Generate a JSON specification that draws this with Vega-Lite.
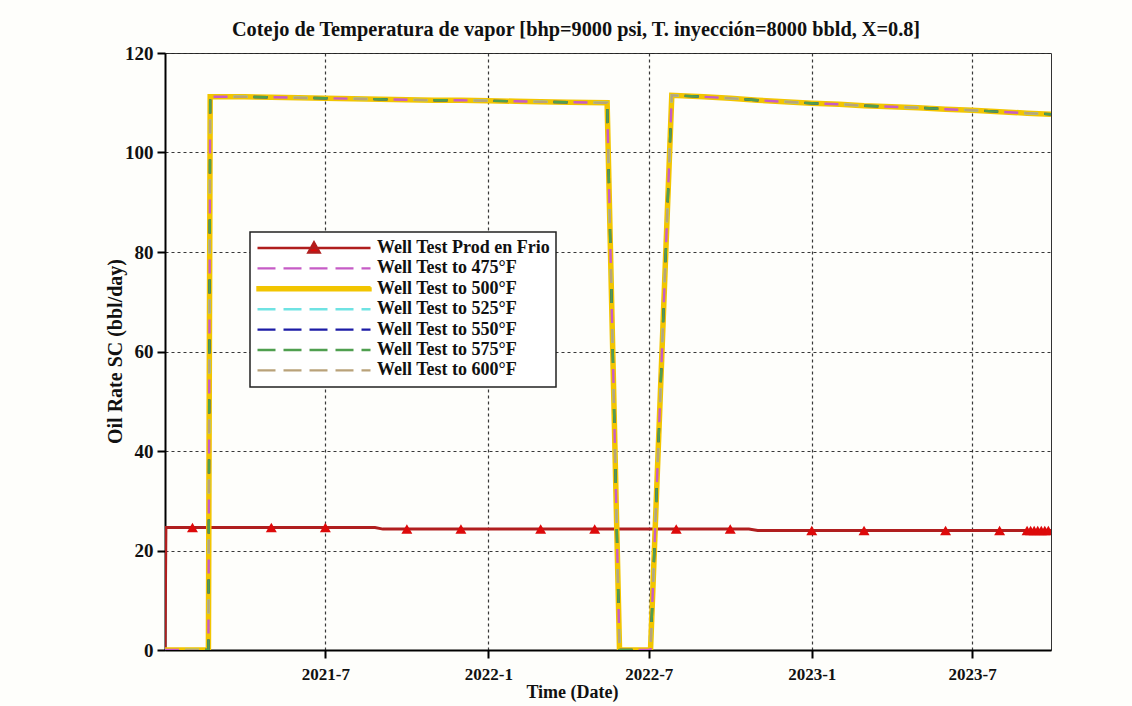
{
  "$schema": "https://vega.github.io/schema/vega-lite/v6.json",
  "width": 886,
  "height": 597,
  "autosize": {"type": "none"},
  "padding": {"left": 165, "top": 53, "right": 81, "bottom": 56},
  "background": "#fefefb",
  "title": {
    "text": "Cotejo de Temperatura de vapor [bhp=9000 psi, T. inyección=8000 bbld, X=0.8]",
    "font": "Liberation Serif",
    "fontSize": 20.3,
    "fontWeight": "bold",
    "color": "#111111",
    "anchor": "middle",
    "frame": "group",
    "dx": -32,
    "offset": 4
  },
  "datasets": {
    "frio": [
      {"date": "2021-01-01", "series": "Well Test Prod en Frio", "rate": 0},
      {"date": "2021-01-02", "series": "Well Test Prod en Frio", "rate": 24.6},
      {"date": "2021-08-26", "series": "Well Test Prod en Frio", "rate": 24.6},
      {"date": "2021-09-04", "series": "Well Test Prod en Frio", "rate": 24.3},
      {"date": "2022-10-22", "series": "Well Test Prod en Frio", "rate": 24.3},
      {"date": "2022-11-01", "series": "Well Test Prod en Frio", "rate": 24.0},
      {"date": "2023-09-28", "series": "Well Test Prod en Frio", "rate": 24.0}
    ],
    "frioTests": [
      {"date": "2021-02-01", "rate": 24.6},
      {"date": "2021-05-01", "rate": 24.6},
      {"date": "2021-07-01", "rate": 24.6},
      {"date": "2021-10-01", "rate": 24.3},
      {"date": "2021-12-01", "rate": 24.3},
      {"date": "2022-03-01", "rate": 24.3},
      {"date": "2022-05-01", "rate": 24.3},
      {"date": "2022-08-01", "rate": 24.3},
      {"date": "2022-10-01", "rate": 24.3},
      {"date": "2023-01-01", "rate": 24.0},
      {"date": "2023-03-01", "rate": 24.0},
      {"date": "2023-06-01", "rate": 24.0},
      {"date": "2023-08-01", "rate": 24.0},
      {"date": "2023-09-01", "rate": 24.0},
      {"date": "2023-09-05", "rate": 24.0},
      {"date": "2023-09-09", "rate": 24.0},
      {"date": "2023-09-13", "rate": 24.0},
      {"date": "2023-09-17", "rate": 24.0},
      {"date": "2023-09-21", "rate": 24.0},
      {"date": "2023-09-25", "rate": 24.0}
    ],
    "steam": [
      {"date": "2021-01-01", "Well Test to 475°F": 0, "Well Test to 500°F": 0, "Well Test to 525°F": 0, "Well Test to 550°F": 0, "Well Test to 575°F": 0, "Well Test to 600°F": 0},
      {"date": "2021-02-19", "Well Test to 475°F": 0, "Well Test to 500°F": 0, "Well Test to 525°F": 0, "Well Test to 550°F": 0, "Well Test to 575°F": 0, "Well Test to 600°F": 0},
      {"date": "2021-02-21", "Well Test to 475°F": 111.2, "Well Test to 500°F": 111.2, "Well Test to 525°F": 111.2, "Well Test to 550°F": 111.2, "Well Test to 575°F": 111.2, "Well Test to 600°F": 111.2},
      {"date": "2021-04-01", "Well Test to 475°F": 111.2, "Well Test to 500°F": 111.2, "Well Test to 525°F": 111.2, "Well Test to 550°F": 111.2, "Well Test to 575°F": 111.2, "Well Test to 600°F": 111.2},
      {"date": "2021-05-01", "Well Test to 475°F": 111.1, "Well Test to 500°F": 111.1, "Well Test to 525°F": 111.1, "Well Test to 550°F": 111.1, "Well Test to 575°F": 111.1, "Well Test to 600°F": 111.1},
      {"date": "2021-06-01", "Well Test to 475°F": 111.0, "Well Test to 500°F": 111.0, "Well Test to 525°F": 111.0, "Well Test to 550°F": 111.0, "Well Test to 575°F": 111.0, "Well Test to 600°F": 111.0},
      {"date": "2021-07-01", "Well Test to 475°F": 110.9, "Well Test to 500°F": 110.9, "Well Test to 525°F": 110.9, "Well Test to 550°F": 110.9, "Well Test to 575°F": 110.9, "Well Test to 600°F": 110.9},
      {"date": "2021-08-01", "Well Test to 475°F": 110.8, "Well Test to 500°F": 110.8, "Well Test to 525°F": 110.8, "Well Test to 550°F": 110.8, "Well Test to 575°F": 110.8, "Well Test to 600°F": 110.8},
      {"date": "2021-09-01", "Well Test to 475°F": 110.7, "Well Test to 500°F": 110.7, "Well Test to 525°F": 110.7, "Well Test to 550°F": 110.7, "Well Test to 575°F": 110.7, "Well Test to 600°F": 110.7},
      {"date": "2021-10-01", "Well Test to 475°F": 110.6, "Well Test to 500°F": 110.6, "Well Test to 525°F": 110.6, "Well Test to 550°F": 110.6, "Well Test to 575°F": 110.6, "Well Test to 600°F": 110.6},
      {"date": "2021-11-01", "Well Test to 475°F": 110.5, "Well Test to 500°F": 110.5, "Well Test to 525°F": 110.5, "Well Test to 550°F": 110.5, "Well Test to 575°F": 110.5, "Well Test to 600°F": 110.5},
      {"date": "2021-12-01", "Well Test to 475°F": 110.5, "Well Test to 500°F": 110.5, "Well Test to 525°F": 110.5, "Well Test to 550°F": 110.5, "Well Test to 575°F": 110.5, "Well Test to 600°F": 110.5},
      {"date": "2022-01-01", "Well Test to 475°F": 110.4, "Well Test to 500°F": 110.4, "Well Test to 525°F": 110.4, "Well Test to 550°F": 110.4, "Well Test to 575°F": 110.4, "Well Test to 600°F": 110.4},
      {"date": "2022-02-01", "Well Test to 475°F": 110.3, "Well Test to 500°F": 110.3, "Well Test to 525°F": 110.3, "Well Test to 550°F": 110.3, "Well Test to 575°F": 110.3, "Well Test to 600°F": 110.3},
      {"date": "2022-03-01", "Well Test to 475°F": 110.2, "Well Test to 500°F": 110.2, "Well Test to 525°F": 110.2, "Well Test to 550°F": 110.2, "Well Test to 575°F": 110.2, "Well Test to 600°F": 110.2},
      {"date": "2022-04-01", "Well Test to 475°F": 110.1, "Well Test to 500°F": 110.1, "Well Test to 525°F": 110.1, "Well Test to 550°F": 110.1, "Well Test to 575°F": 110.1, "Well Test to 600°F": 110.1},
      {"date": "2022-05-15", "Well Test to 475°F": 110.0, "Well Test to 500°F": 110.0, "Well Test to 525°F": 110.0, "Well Test to 550°F": 110.0, "Well Test to 575°F": 110.0, "Well Test to 600°F": 110.0},
      {"date": "2022-05-29", "Well Test to 475°F": 0, "Well Test to 500°F": 0, "Well Test to 525°F": 0, "Well Test to 550°F": 0, "Well Test to 575°F": 0, "Well Test to 600°F": 0},
      {"date": "2022-07-03", "Well Test to 475°F": 0, "Well Test to 500°F": 0, "Well Test to 525°F": 0, "Well Test to 550°F": 0, "Well Test to 575°F": 0, "Well Test to 600°F": 0},
      {"date": "2022-07-27", "Well Test to 475°F": 111.5, "Well Test to 500°F": 111.5, "Well Test to 525°F": 111.5, "Well Test to 550°F": 111.5, "Well Test to 575°F": 111.5, "Well Test to 600°F": 111.5},
      {"date": "2022-09-01", "Well Test to 475°F": 111.2, "Well Test to 500°F": 111.2, "Well Test to 525°F": 111.2, "Well Test to 550°F": 111.2, "Well Test to 575°F": 111.2, "Well Test to 600°F": 111.2},
      {"date": "2022-10-01", "Well Test to 475°F": 110.9, "Well Test to 500°F": 110.9, "Well Test to 525°F": 110.9, "Well Test to 550°F": 110.9, "Well Test to 575°F": 110.9, "Well Test to 600°F": 110.9},
      {"date": "2022-11-01", "Well Test to 475°F": 110.5, "Well Test to 500°F": 110.5, "Well Test to 525°F": 110.5, "Well Test to 550°F": 110.5, "Well Test to 575°F": 110.5, "Well Test to 600°F": 110.5},
      {"date": "2022-12-01", "Well Test to 475°F": 110.2, "Well Test to 500°F": 110.2, "Well Test to 525°F": 110.2, "Well Test to 550°F": 110.2, "Well Test to 575°F": 110.2, "Well Test to 600°F": 110.2},
      {"date": "2023-01-01", "Well Test to 475°F": 109.9, "Well Test to 500°F": 109.9, "Well Test to 525°F": 109.9, "Well Test to 550°F": 109.9, "Well Test to 575°F": 109.9, "Well Test to 600°F": 109.9},
      {"date": "2023-02-01", "Well Test to 475°F": 109.7, "Well Test to 500°F": 109.7, "Well Test to 525°F": 109.7, "Well Test to 550°F": 109.7, "Well Test to 575°F": 109.7, "Well Test to 600°F": 109.7},
      {"date": "2023-03-01", "Well Test to 475°F": 109.4, "Well Test to 500°F": 109.4, "Well Test to 525°F": 109.4, "Well Test to 550°F": 109.4, "Well Test to 575°F": 109.4, "Well Test to 600°F": 109.4},
      {"date": "2023-04-01", "Well Test to 475°F": 109.2, "Well Test to 500°F": 109.2, "Well Test to 525°F": 109.2, "Well Test to 550°F": 109.2, "Well Test to 575°F": 109.2, "Well Test to 600°F": 109.2},
      {"date": "2023-05-01", "Well Test to 475°F": 109.0, "Well Test to 500°F": 109.0, "Well Test to 525°F": 109.0, "Well Test to 550°F": 109.0, "Well Test to 575°F": 109.0, "Well Test to 600°F": 109.0},
      {"date": "2023-06-01", "Well Test to 475°F": 108.7, "Well Test to 500°F": 108.7, "Well Test to 525°F": 108.7, "Well Test to 550°F": 108.7, "Well Test to 575°F": 108.7, "Well Test to 600°F": 108.7},
      {"date": "2023-07-01", "Well Test to 475°F": 108.5, "Well Test to 500°F": 108.5, "Well Test to 525°F": 108.5, "Well Test to 550°F": 108.5, "Well Test to 575°F": 108.5, "Well Test to 600°F": 108.5},
      {"date": "2023-08-01", "Well Test to 475°F": 108.2, "Well Test to 500°F": 108.2, "Well Test to 525°F": 108.2, "Well Test to 550°F": 108.2, "Well Test to 575°F": 108.2, "Well Test to 600°F": 108.2},
      {"date": "2023-09-01", "Well Test to 475°F": 107.9, "Well Test to 500°F": 107.9, "Well Test to 525°F": 107.9, "Well Test to 550°F": 107.9, "Well Test to 575°F": 107.9, "Well Test to 600°F": 107.9},
      {"date": "2023-09-28", "Well Test to 475°F": 107.7, "Well Test to 500°F": 107.7, "Well Test to 525°F": 107.7, "Well Test to 550°F": 107.7, "Well Test to 575°F": 107.7, "Well Test to 600°F": 107.7}
    ]
  },
  "encoding": {
    "x": {
      "field": "date",
      "type": "temporal",
      "scale": {
        "type": "utc",
        "domain": [
          {"year": 2021, "month": 1, "date": 1, "utc": true},
          {"year": 2023, "month": 9, "date": 28, "utc": true}
        ]
      },
      "axis": {
        "title": "Time (Date)",
        "format": "%Y-%-m",
        "values": [
          {"year": 2021, "month": 7, "date": 1, "utc": true},
          {"year": 2022, "month": 1, "date": 1, "utc": true},
          {"year": 2022, "month": 7, "date": 1, "utc": true},
          {"year": 2023, "month": 1, "date": 1, "utc": true},
          {"year": 2023, "month": 7, "date": 1, "utc": true}
        ],
        "labelFontSize": 17,
        "labelPadding": 8,
        "titleX": 407,
        "titleY": 42,
        "titleAlign": "center",
        "titleBaseline": "middle"
      }
    },
    "y": {
      "field": "rate",
      "type": "quantitative",
      "scale": {"domain": [0, 120], "nice": false, "zero": true},
      "axis": {
        "title": "Oil Rate SC (bbl/day)",
        "values": [0, 20, 40, 60, 80, 100, 120],
        "labelFontSize": 19,
        "labelPadding": 4,
        "titleFontSize": 20,
        "titleX": -50,
        "titleY": 298,
        "titleAlign": "center",
        "titleBaseline": "middle",
        "titleAngle": -90
      }
    },
    "color": {
      "field": "series",
      "type": "nominal",
      "scale": {
        "domain": ["Well Test Prod en Frio", "Well Test to 475°F", "Well Test to 500°F", "Well Test to 525°F", "Well Test to 550°F", "Well Test to 575°F", "Well Test to 600°F"],
        "range": ["#b01e1e", "#c65cc6", "#f2c500", "#6fe3e3", "#1c1ca6", "#4f9f4f", "#b9a27a"]
      },
      "legend": {
        "title": null,
        "orient": "none",
        "legendX": 85,
        "legendY": 179,
        "encoding": {
          "symbols": {
            "shape": {"value": {"expr": "datum.value === 'Well Test Prod en Frio' ? 'M-1,0H1M0,-0.1L0.1,0.08L-0.1,0.08Z' : (datum.value === 'Well Test to 500°F' ? 'M-1,-0.027H1V0.027H-1Z' : 'stroke')"}},
            "fill": {"value": {"expr": "datum.value === 'Well Test Prod en Frio' ? '#dd0a0a' : (datum.value === 'Well Test to 500°F' ? '#f2c500' : 'transparent')"}},
            "strokeDash": {"value": {"expr": "datum.value === 'Well Test Prod en Frio' || datum.value === 'Well Test to 500°F' ? [1, 0] : [18, 8]"}}
          }
        }
      }
    }
  },
  "layer": [
    {
      "data": {"name": "frio"},
      "mark": {"type": "line", "clip": true, "strokeJoin": "miter", "strokeWidth": 3}
    },
    {
      "data": {"name": "frioTests"},
      "mark": {"type": "point", "shape": "triangle-up", "filled": true, "size": 120, "color": "#dd0a0a", "opacity": 1, "clip": true},
      "encoding": {"color": {"value": "#dd0a0a"}}
    },
    {
      "data": {"name": "steam"},
      "transform": [
        {"fold": ["Well Test to 500°F"], "as": ["series", "rate"]}
      ],
      "mark": {"type": "line", "clip": true, "strokeJoin": "miter", "strokeWidth": 5.5}
    },
    {
      "data": {"name": "steam"},
      "transform": [
        {"fold": ["Well Test to 525°F"], "as": ["series", "rate"]}
      ],
      "mark": {"type": "line", "clip": true, "strokeJoin": "miter", "strokeWidth": 2.4, "strokeDash": [14, 46], "strokeDashOffset": 40}
    },
    {
      "data": {"name": "steam"},
      "transform": [
        {"fold": ["Well Test to 550°F"], "as": ["series", "rate"]}
      ],
      "mark": {"type": "line", "clip": true, "strokeJoin": "miter", "strokeWidth": 2.4, "strokeDash": [14, 46], "strokeDashOffset": 20}
    },
    {
      "data": {"name": "steam"},
      "transform": [
        {"fold": ["Well Test to 475°F"], "as": ["series", "rate"]}
      ],
      "mark": {"type": "line", "clip": true, "strokeJoin": "miter", "strokeWidth": 2.4, "strokeDash": [14, 46], "strokeDashOffset": 0}
    },
    {
      "data": {"name": "steam"},
      "transform": [
        {"fold": ["Well Test to 575°F"], "as": ["series", "rate"]}
      ],
      "mark": {"type": "line", "clip": true, "strokeJoin": "miter", "strokeWidth": 2.4, "strokeDash": [14, 46], "strokeDashOffset": 20}
    },
    {
      "data": {"name": "steam"},
      "transform": [
        {"fold": ["Well Test to 600°F"], "as": ["series", "rate"]}
      ],
      "mark": {"type": "line", "clip": true, "strokeJoin": "miter", "strokeWidth": 2.4, "strokeDash": [14, 46], "strokeDashOffset": 40}
    }
  ],
  "config": {
    "font": "Liberation Serif",
    "view": {"stroke": "#333333", "strokeWidth": 1, "fill": "#fefefb"},
    "axis": {
      "labelFont": "Liberation Serif",
      "labelFontWeight": "bold",
      "labelColor": "#111111",
      "titleFont": "Liberation Serif",
      "titleFontWeight": "bold",
      "titleFontSize": 18,
      "titleColor": "#111111",
      "domainColor": "#000000",
      "domainWidth": 2,
      "tickColor": "#000000",
      "tickWidth": 2,
      "tickSize": 8,
      "grid": true,
      "gridColor": "#222222",
      "gridDash": [3, 3],
      "gridWidth": 1.2,
      "gridOpacity": 0.9,
      "labelFlush": false
    },
    "legend": {
      "labelFont": "Liberation Serif",
      "labelFontWeight": "bold",
      "labelFontSize": 18,
      "labelColor": "#111111",
      "labelLimit": 400,
      "symbolSize": 12769,
      "symbolType": "stroke",
      "symbolStrokeWidth": 2.4,
      "clipHeight": 20,
      "rowPadding": 0.4,
      "padding": 6,
      "labelOffset": 5,
      "strokeColor": "#222222",
      "strokeWidth": 1.5,
      "fillColor": "#ffffff",
      "cornerRadius": 0
    }
  }
}
